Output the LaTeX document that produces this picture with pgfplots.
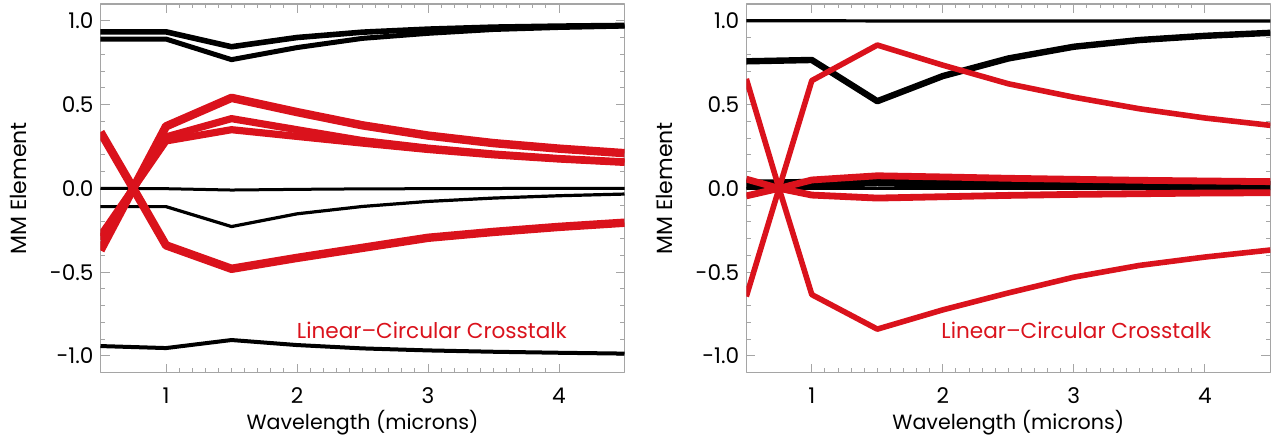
\documentclass[border=0pt]{standalone}
\usepackage{pgfplots}
\usepackage{pgfplotstable}
\usepackage{fontspec}
\setmainfont{Poppins}
\pgfplotsset{compat=1.18}
\definecolor{xred}{RGB}{218,18,28}
\definecolor{frame}{RGB}{165,165,165}

\pgfplotstableread{
x    b1     b2     b3      b4      b5
0.5  0.934  0.891  0.000  -0.109  -0.941
1.0  0.934  0.891 -0.002  -0.109  -0.953
1.5  0.845  0.768 -0.010  -0.228  -0.905
2.0  0.900  0.840 -0.006  -0.152  -0.935
2.5  0.932  0.895 -0.003  -0.108  -0.955
3.0  0.950  0.925 -0.002  -0.078  -0.967
3.5  0.962  0.948 -0.001  -0.058  -0.975
4.0  0.968  0.960  0.000  -0.044  -0.981
4.5  0.972  0.968  0.000  -0.034  -0.986
}\leftblack

\pgfplotstableread{
x    r1      r2      r3      r4
0.5  -0.370  -0.307  -0.283   0.336
0.75  0.000   0.000   0.000   0.000
1.0   0.370   0.307   0.283  -0.340
1.5   0.540   0.416   0.350  -0.480
2.0   0.455   0.350   0.310  -0.415
2.5   0.376   0.285   0.270  -0.355
3.0   0.315   0.240   0.232  -0.295
3.5   0.270   0.205   0.200  -0.260
4.0   0.237   0.178   0.175  -0.230
4.5   0.210   0.158   0.155  -0.205
}\leftred

\pgfplotstableread{
x    b1     b2     b3     b4
0.5  1.000  0.758  0.025  0.000
1.0  1.000  0.766  0.030  0.000
1.5  0.999  0.520  0.038  0.000
2.0  0.999  0.670  0.032  0.000
2.5  0.998  0.775  0.026  0.000
3.0  0.998  0.845  0.022  0.000
3.5  0.998  0.885  0.020  0.000
4.0  0.998  0.910  0.018  0.000
4.5  0.998  0.928  0.017  0.000
}\rightblack

\pgfplotstableread{
x    r1      r2      r3      r4
0.5  -0.645   0.653  -0.045   0.055
0.75  0.000   0.000   0.000   0.000
1.0   0.643  -0.634   0.050  -0.040
1.5   0.855  -0.840   0.075  -0.058
2.0   0.735  -0.725   0.068  -0.050
2.5   0.624  -0.624   0.060  -0.042
3.0   0.544  -0.530   0.054  -0.036
3.5   0.475  -0.460   0.048  -0.032
4.0   0.420  -0.410   0.044  -0.028
4.5   0.376  -0.368   0.040  -0.026
}\rightred

\pgfplotsset{
  mmstyle/.style={
    scale only axis,
    width=262pt, height=184.35pt,
    xmin=0.5, xmax=4.5, ymin=-1.1, ymax=1.1,
    xtick={1,2,3,4},
    ytick={-1,-0.5,0,0.5,1},
    minor x tick num=9,
    minor y tick num=4,
    tick align=inside,
    major tick length=4.5pt,
    minor tick length=2.2pt,
    axis line style={frame, line width=0.6pt},
    every tick/.style={frame, line width=0.5pt},
    /pgf/number format/assume math mode=true,
    xticklabel style={font=\fontsize{10.8}{12}\selectfont},
    yticklabel style={font=\fontsize{10.8}{12}\selectfont,
      /pgf/number format/.cd, fixed, fixed zerofill, precision=1},
    xticklabel shift=4pt,
    xlabel={Wavelength (microns)},
    ylabel={MM Element},
    every axis x label/.style={at={(axis description cs:0.5,-0.136)}, anchor=center,
      font=\fontsize{10.3}{12}\selectfont},
    every axis y label/.style={at={(axis description cs:-0.157,0.5)}, anchor=center, rotate=90,
      font=\fontsize{11}{13}\selectfont},
    line join=round,
  },
  blk/.style={black, line width=#1},
  rd/.style={xred, line width=#1},
}

\begin{document}
\begin{tikzpicture}
\useasboundingbox (-50.25pt,-33.65pt) rectangle (586.25pt,186.35pt);

\begin{axis}[mmstyle, at={(0pt,0pt)}, anchor=south west]
\addplot[blk=2.8pt] table[x=x, y=b1] {\leftblack};
\addplot[blk=2.5pt] table[x=x, y=b2] {\leftblack};
\addplot[blk=1.5pt] table[x=x, y=b3] {\leftblack};
\addplot[blk=1.6pt] table[x=x, y=b4] {\leftblack};
\addplot[blk=2.0pt] table[x=x, y=b5] {\leftblack};
\addplot[rd=4.2pt] table[x=x, y=r1] {\leftred};
\addplot[rd=3.6pt] table[x=x, y=r2] {\leftred};
\addplot[rd=3.6pt] table[x=x, y=r3] {\leftred};
\addplot[rd=4.2pt] table[x=x, y=r4] {\leftred};
\node[xred, font=\fontsize{10.8}{12}\selectfont] at (axis cs:3.03,-0.848) {Linear--Circular Crosstalk};
\end{axis}

\begin{axis}[mmstyle, at={(322.9pt,0pt)}, anchor=south west]
\addplot[blk=1.6pt] table[x=x, y=b1] {\rightblack};
\addplot[blk=3.2pt] table[x=x, y=b2] {\rightblack};
\addplot[blk=4.5pt] table[x=x, y=b3] {\rightblack};
\addplot[blk=1.6pt] table[x=x, y=b4] {\rightblack};
\addplot[rd=2.8pt] table[x=x, y=r1] {\rightred};
\addplot[rd=2.8pt] table[x=x, y=r2] {\rightred};
\addplot[rd=3.4pt] table[x=x, y=r3] {\rightred};
\addplot[rd=3.4pt] table[x=x, y=r4] {\rightred};
\node[xred, font=\fontsize{10.8}{12}\selectfont] at (axis cs:3.02,-0.848) {Linear--Circular Crosstalk};
\end{axis}
\end{tikzpicture}
\end{document}
